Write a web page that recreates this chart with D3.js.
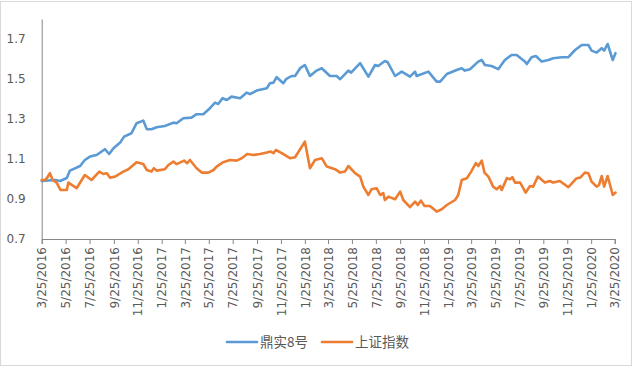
<!DOCTYPE html>
<html>
<head>
<meta charset="utf-8">
<script src="https://cdn.jsdelivr.net/npm/d3@7"></script>
<style>
  body { margin: 0; background: #fff; }
  text { font-family: "DejaVu Sans", sans-serif; }
</style>
</head>
<body>
<div id="chart"></div>
<script>
var seriesNames = ["鼎实8号", "上证指数"]
var seriesColors = ["#5B9BD5", "#ED7D31"]

var xTickLabels = ["3/25/2016","5/25/2016","7/25/2016","9/25/2016","11/25/2016",
  "1/25/2017","3/25/2017","5/25/2017","7/25/2017","9/25/2017","11/25/2017",
  "1/25/2018","3/25/2018","5/25/2018","7/25/2018","9/25/2018","11/25/2018",
  "1/25/2019","3/25/2019","5/25/2019","7/25/2019","9/25/2019","11/25/2019",
  "1/25/2020","3/25/2020"]
var yTicks = [0.7, 0.9, 1.1, 1.3, 1.5, 1.7]
var yRange = [0.7, 1.8]

// 鼎实8号
var fundDates = ["2016-03-25","2016-04-28","2016-05-11","2016-05-28","2016-06-05","2016-07-01",
  "2016-07-13","2016-07-26","2016-08-12","2016-09-02","2016-09-13","2016-09-24","2016-10-11",
  "2016-10-21","2016-11-09","2016-11-22","2016-12-09","2016-12-18","2016-12-30","2017-01-12",
  "2017-02-02","2017-02-24","2017-03-04","2017-03-21","2017-04-11","2017-04-24","2017-05-11",
  "2017-05-28","2017-06-10","2017-06-18","2017-06-29","2017-07-10","2017-07-22","2017-08-13",
  "2017-08-30","2017-09-07","2017-09-24","2017-10-20","2017-10-28","2017-11-06","2017-11-14",
  "2017-12-01","2017-12-08","2017-12-22","2017-12-31","2018-01-13","2018-01-25","2018-02-07",
  "2018-02-24","2018-03-09","2018-03-30","2018-04-16","2018-04-25","2018-05-16","2018-05-23",
  "2018-06-15","2018-07-06","2018-07-23","2018-07-31","2018-08-17","2018-08-24","2018-09-12",
  "2018-09-29","2018-10-20","2018-11-02","2018-11-06","2018-12-06","2018-12-27","2019-01-05",
  "2019-01-22","2019-02-16","2019-03-01","2019-03-09","2019-03-22","2019-04-12","2019-04-21",
  "2019-04-29","2019-05-16","2019-06-02","2019-06-07","2019-06-19","2019-07-06","2019-07-19",
  "2019-08-09","2019-08-14","2019-08-26","2019-09-06","2019-09-21","2019-10-08","2019-10-20",
  "2019-11-11","2019-11-28","2019-12-15","2020-01-01","2020-01-18","2020-01-26","2020-02-08",
  "2020-02-21","2020-02-27","2020-03-07","2020-03-20","2020-03-27"]
var fundValues = [0.99,0.995,0.99,1.005,1.042,1.065,
  1.095,1.112,1.12,1.149,1.125,1.154,1.182,
  1.212,1.229,1.279,1.292,1.249,1.249,1.259,
  1.265,1.282,1.279,1.304,1.307,1.324,1.324,
  1.354,1.382,1.375,1.404,1.395,1.412,1.404,
  1.432,1.424,1.442,1.454,1.479,1.482,1.509,
  1.479,1.499,1.515,1.515,1.554,1.57,1.515,
  1.542,1.554,1.515,1.515,1.499,1.542,1.532,
  1.579,1.512,1.57,1.565,1.59,1.584,1.515,
  1.537,1.512,1.537,1.515,1.537,1.487,1.487,
  1.525,1.545,1.554,1.542,1.549,1.587,1.595,
  1.57,1.565,1.549,1.562,1.595,1.62,1.62,
  1.587,1.575,1.609,1.615,1.587,1.595,1.604,
  1.609,1.609,1.645,1.67,1.67,1.642,1.632,
  1.654,1.642,1.675,1.595,1.629]

// 上证指数
var indexDates = ["2016-03-25","2016-04-02","2016-04-07","2016-04-15","2016-04-22","2016-05-02",
  "2016-05-12","2016-05-28","2016-06-01","2016-06-22","2016-07-13","2016-07-30","2016-08-19",
  "2016-08-29","2016-09-07","2016-09-15","2016-09-28","2016-10-19","2016-11-01","2016-11-22",
  "2016-12-09","2016-12-18","2016-12-30","2017-01-05","2017-01-12","2017-02-02","2017-02-11",
  "2017-02-24","2017-03-04","2017-03-23","2017-03-31","2017-04-07","2017-04-24","2017-05-07",
  "2017-05-24","2017-06-06","2017-06-14","2017-06-29","2017-07-18","2017-08-04","2017-08-17",
  "2017-08-31","2017-09-16","2017-10-03","2017-10-20","2017-10-30","2017-11-06","2017-11-12",
  "2017-11-27","2017-12-18","2017-12-31","2018-01-13","2018-01-25","2018-02-07","2018-02-20",
  "2018-03-09","2018-03-22","2018-04-12","2018-04-25","2018-05-07","2018-05-16","2018-06-02",
  "2018-06-15","2018-06-23","2018-07-06","2018-07-14","2018-07-27","2018-08-05","2018-08-13",
  "2018-08-17","2018-08-26","2018-09-12","2018-09-25","2018-10-03","2018-10-20","2018-11-02",
  "2018-11-09","2018-11-17","2018-11-26","2018-12-10","2018-12-27","2019-01-09","2019-01-22",
  "2019-02-12","2019-02-20","2019-03-01","2019-03-14","2019-03-25","2019-04-06","2019-04-12",
  "2019-04-21","2019-04-28","2019-05-08","2019-05-20","2019-05-29","2019-06-07","2019-06-11",
  "2019-06-24","2019-07-02","2019-07-08","2019-07-15","2019-07-28","2019-08-11","2019-08-22",
  "2019-08-30","2019-09-11","2019-09-29","2019-10-12","2019-10-20","2019-11-06","2019-11-28",
  "2019-12-19","2019-12-28","2020-01-09","2020-01-18","2020-01-26","2020-02-08","2020-02-14",
  "2020-02-21","2020-02-27","2020-03-07","2020-03-20","2020-03-27"]
var indexValues = [0.995,0.995,1.004,1.029,0.995,0.982,
  0.945,0.945,0.982,0.954,1.02,0.995,1.037,
  1.025,1.029,1.007,1.012,1.037,1.049,1.084,
  1.075,1.045,1.037,1.054,1.042,1.049,1.07,
  1.087,1.074,1.092,1.079,1.095,1.054,1.032,
  1.032,1.045,1.062,1.082,1.095,1.092,1.104,
  1.125,1.12,1.125,1.132,1.137,1.129,1.145,
  1.129,1.104,1.109,1.149,1.187,1.054,1.095,
  1.104,1.062,1.049,1.032,1.037,1.065,1.029,
  1.012,0.962,0.92,0.949,0.954,0.92,0.929,
  0.895,0.912,0.899,0.937,0.895,0.859,0.887,
  0.87,0.892,0.865,0.865,0.837,0.849,0.87,
  0.895,0.92,0.995,1.004,1.037,1.079,1.065,
  1.092,1.032,1.012,0.962,0.949,0.965,0.945,
  1.004,0.999,1.009,0.982,0.982,0.932,0.965,
  0.962,1.012,0.982,0.99,0.982,0.99,0.959,
  1.004,1.007,1.032,1.029,0.987,0.962,0.97,
  1.015,0.962,1.015,0.92,0.932]

var draw = function() {
  var width = 635, height = 368;
  var left = 41.7, right = 614.7, top = 19, bottom = 239;

  var parseIso = d3.timeParse("%Y-%m-%d");
  var parseTick = d3.timeParse("%-m/%-d/%Y");
  var tickDates = xTickLabels.map(parseTick);

  var svg = d3.select("#chart").append("svg")
    .attr("width", width)
    .attr("height", height);

  // chart area border
  svg.append("rect")
    .attr("x", 0.5).attr("y", 1.5)
    .attr("width", 631).attr("height", 364)
    .attr("fill", "#fff")
    .attr("stroke", "#d9d9d9");

  var x = d3.scaleTime()
    .domain([tickDates[0], tickDates[tickDates.length - 1]])
    .range([left, right]);
  var y = d3.scaleLinear()
    .domain(yRange)
    .range([bottom, top]);

  // y axis
  var yAxis = svg.append("g")
    .attr("transform", "translate(" + left + ",0)")
    .call(d3.axisLeft(y).tickValues(yTicks).tickSize(0).tickPadding(16).tickFormat(d3.format(".1f")));
  yAxis.select(".domain").attr("stroke", "#868686").attr("stroke-width", 1);
  yAxis.selectAll("text").attr("fill", "#595959").style("font-size", "12px");

  // x axis
  var xAxis = svg.append("g")
    .attr("transform", "translate(0," + bottom + ")")
    .call(d3.axisBottom(x).tickValues(tickDates).tickSizeOuter(0).tickSize(5)
      .tickFormat(function(d, i) { return xTickLabels[i]; }));
  xAxis.select(".domain").attr("stroke", "#868686").attr("stroke-width", 1);
  xAxis.selectAll(".tick line").attr("stroke", "#868686");
  xAxis.selectAll("text")
    .attr("fill", "#595959")
    .style("font-size", "12px")
    .attr("transform", "rotate(-90)")
    .attr("text-anchor", "end")
    .attr("x", -8)
    .attr("y", 0)
    .attr("dy", "0.35em");

  var line = d3.line()
    .x(function(d) { return x(d.date); })
    .y(function(d) { return y(d.value); });

  var series = [
    fundDates.map(function(d, i) { return {date: parseIso(d), value: fundValues[i]}; }),
    indexDates.map(function(d, i) { return {date: parseIso(d), value: indexValues[i]}; })
  ];

  svg.selectAll(".series")
    .data(series)
    .enter()
    .append("path")
    .attr("class", "series")
    .attr("d", line)
    .attr("fill", "none")
    .attr("stroke", function(d, i) { return seriesColors[i]; })
    .attr("stroke-width", 2.6)
    .attr("stroke-linejoin", "round")
    .attr("stroke-linecap", "round");

  // legend
  var legendX = [227, 322];
  var legend = svg.selectAll(".legend")
    .data(seriesNames)
    .enter()
    .append("g")
    .attr("class", "legend")
    .attr("transform", function(d, i) { return "translate(" + legendX[i] + ",342)"; });
  legend.append("line")
    .attr("x1", 0).attr("x2", 30)
    .attr("stroke", function(d, i) { return seriesColors[i]; })
    .attr("stroke-width", 2.6)
    .attr("stroke-linecap", "round");
  legend.append("text")
    .attr("x", 33)
    .attr("dy", "0.36em")
    .attr("fill", "#595959")
    .style("font-family", "'Noto Sans CJK SC', sans-serif")
    .style("font-size", "13.5px")
    .text(function(d) { return d; });
};
draw();
</script>
</body>
</html>
